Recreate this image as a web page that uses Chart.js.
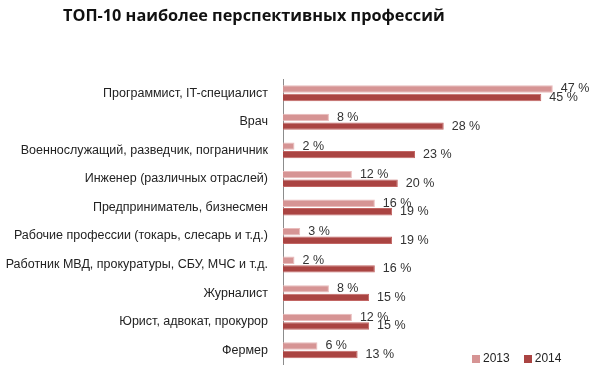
<!DOCTYPE html>
<html>
<head>
<meta charset="utf-8">
<script src="https://cdn.jsdelivr.net/npm/chart.js@4/dist/chart.umd.min.js"></script>
<style>
    body { margin: 0; background: #fff; }
    #wrap { position: relative; width: 600px; height: 387px; }
    #title {
        position: absolute; left: 63px; top: 4px;
        font: bold 16.3px "Open Sans", sans-serif; color: #111; white-space: nowrap;
    }
    #legend {
        position: absolute; left: 472px; top: 351px;
        font: 12px "Liberation Sans", sans-serif; color: #222; white-space: nowrap;
    }
    #legend span.box { display: inline-block; width: 8px; height: 8px; margin-right: 3px; vertical-align: -1px; }
    #legend span.item { margin-right: 14px; }
</style>
</head>
<body>
<div id="wrap">
    <canvas id="chart" width="600" height="387"></canvas>
    <div id="title">ТОП-10 наиболее перспективных профессий</div>
    <div id="legend"></div>
</div>
<script>
    'use strict';

    var professions = [
        'Программист, IT-специалист',
        'Врач',
        'Военнослужащий, разведчик, пограничник',
        'Инженер (различных отраслей)',
        'Предприниматель, бизнесмен',
        'Рабочие профессии (токарь, слесарь и т.д.)',
        'Работник МВД, прокуратуры, СБУ, МЧС и т.д.',
        'Журналист',
        'Юрист, адвокат, прокурор',
        'Фермер'
    ];
    var years = ['2013', '2014'];
    var values2013 = [47, 8, 2, 12, 16, 3, 2, 8, 12, 6];
    var values2014 = [45, 28, 23, 20, 19, 19, 16, 15, 15, 13];

    var fillColors = ['#d69494', '#aa4442'];
    var edgeColors = ['#e9bcbc', '#c26664'];

    // value labels to the right of each bar
    var valueLabels = {
        id: 'valueLabels',
        afterDatasetsDraw: function (chart) {
            var ctx = chart.ctx;
            ctx.save();
            ctx.font = '12.5px "Liberation Sans", sans-serif';
            ctx.fillStyle = '#333';
            ctx.textBaseline = 'middle';
            ctx.textAlign = 'left';
            chart.data.datasets.forEach(function (ds, i) {
                chart.getDatasetMeta(i).data.forEach(function (bar, j) {
                    ctx.fillText(ds.data[j] + ' %', bar.x + 8, bar.y);
                });
            });
            ctx.restore();
        }
    };

    new Chart(document.getElementById('chart'), {
        'type': 'bar',
        'data': {
            'labels': professions,
            'datasets': [{
                'label': years[0],
                'data': values2013,
                'backgroundColor': fillColors[0],
                'borderColor': edgeColors[0],
                'borderWidth': 1,
                'categoryPercentage': 0.6,
                'barPercentage': 0.86
            }, {
                'label': years[1],
                'data': values2014,
                'backgroundColor': fillColors[1],
                'borderColor': edgeColors[1],
                'borderWidth': 1,
                'categoryPercentage': 0.6,
                'barPercentage': 0.86
            }]
        },
        'options': {
            'indexAxis': 'y',
            'responsive': false,
            'animation': false,
            'layout': { 'padding': { 'top': 79, 'bottom': 20, 'right': 30, 'left': 0 } },
            'plugins': {
                'legend': { 'display': false },
                'title': { 'display': false },
                'tooltip': { 'enabled': false }
            },
            'scales': {
                'x': { 'display': false, 'min': 0, 'max': 50 },
                'y': {
                    'grid': { 'display': false, 'drawTicks': false },
                    'border': { 'display': true, 'color': '#8c8c8c', 'width': 1 },
                    'ticks': {
                        'padding': 15,
                        'color': '#222',
                        'font': { 'family': '"Liberation Sans", sans-serif', 'size': 12.5 }
                    },
                    'afterFit': function (scale) { scale.width = 283; }
                }
            }
        },
        'plugins': [valueLabels]
    });

    var legend = document.getElementById('legend');
    years.forEach(function (y, i) {
        legend.innerHTML += '<span class="item"><span class="box" style="background:' +
            fillColors[i] + '"></span>' + y + '</span>';
    });
</script>
</body>
</html>
